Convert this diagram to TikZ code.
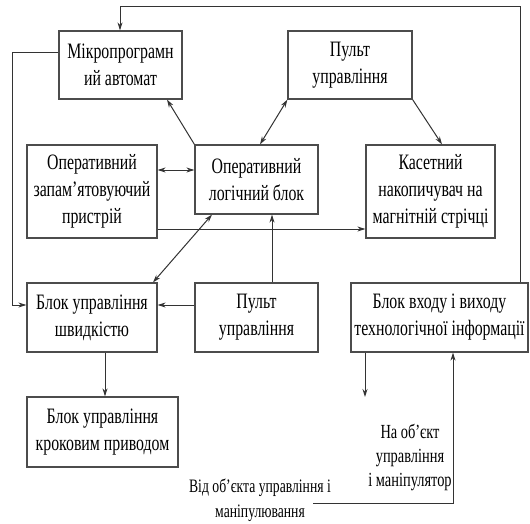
\documentclass[tikz,border=0pt]{standalone}
\usepackage{fontspec}
\setmainfont{Liberation Serif}[FakeStretch=0.72]
\usepackage{tikz}
\usetikzlibrary{arrows.meta}
\tikzset{
	blk/.style={draw=black!70,line width=1.2pt,align=center,inner sep=0pt,font=\fontsize{22}{27}\selectfont},
	lnk/.style={draw=black!80,line width=1pt},
	txt/.style={align=center,inner sep=0pt,font=\fontsize{20}{24}\selectfont},
	>={Stealth[length=8pt,width=5pt]}
}

\begin{document}
\begin{tikzpicture}[x=1pt,y=-1pt]
	\useasboundingbox (0,0) rectangle (530,524);
	% blocks
	\node[blk,minimum width=123pt,minimum height=68pt] (mpa) at (120.5,65) {Мікропрограмн\\ий автомат};
	\node[blk,minimum width=124pt,minimum height=68pt] (pu1) at (350,65) {Пульт\\управління};
	\node[blk,minimum width=130pt,minimum height=93pt] (ozp) at (92,191.5) {Оперативний\\запам'ятовуючий\\пристрій};
	\node[blk,minimum width=123pt,minimum height=69pt] (olb) at (256.5,179.5) {Оперативний\\логічний блок};
	\node[blk,minimum width=129pt,minimum height=93pt] (kn) at (430.5,191.5) {Касетний\\накопичувач на\\магнітній стрічці};
	\node[blk,minimum width=130pt,minimum height=69pt] (bus) at (92,317.5) {Блок управління\\швидкістю};
	\node[blk,minimum width=123pt,minimum height=69pt] (pu2) at (256.5,317.5) {Пульт\\управління};
	\node[blk,minimum width=177pt,minimum height=69pt] (bvv) at (439.5,317.5) {Блок входу і виходу\\технологічної інформації};
	\node[blk,minimum width=151pt,minimum height=70pt] (bkp) at (102.5,432) {Блок управління\\кроковим приводом};
	% labels
	\node[txt] (naob) at (410,457) {На об'єкт\\управління\\і маніпулятор};
	\node[txt,font=\fontsize{19}{25}\selectfont] (vidob) at (260,500) {Від об’єкта управління і\\маніпулювання};
	% corners and free ends
	\coordinate (tr) at (520,7);
	\coordinate (tl) at (12,53);
	\coordinate (out) at (365,397);
	\coordinate (in) at (313,503);
	% links
	\draw[lnk,->] (bvv.north -| tr) -- (tr) -| (mpa.north -| 120,0);
	\draw[lnk,->] (mpa.west |- tl) -- (tl) |- (bus.west |- 0,305);
	\draw[lnk,->] (olb.north west) -- (mpa.south -| 167,0);
	\draw[lnk,<->] (olb.north -| 260,0) -- (pu1.south west);
	\draw[lnk,->] (pu1.south east) -- (kn.north -| 442,0);
	\draw[lnk,<->] (ozp.east |- 0,170) -- (olb.west |- 0,170);
	\draw[lnk,->] (ozp.east |- 0,229) -- (kn.west |- 0,229);
	\draw[lnk,<->] (olb.south -| 212,0) -- (bus.north -| 153,0);
	\draw[lnk,->] (pu2.north -| 272,0) -- (olb.south -| 272,0);
	\draw[lnk,->] (pu2.west |- 0,305) -- (bus.east |- 0,305);
	\draw[lnk,->] (bus.south -| 105,0) -- (bkp.north -| 105,0);
	\draw[lnk,->] (bvv.south -| out) -- (out);
	\draw[lnk,->] (in) -| (bvv.south -| 453,0);
\end{tikzpicture}
\end{document}
